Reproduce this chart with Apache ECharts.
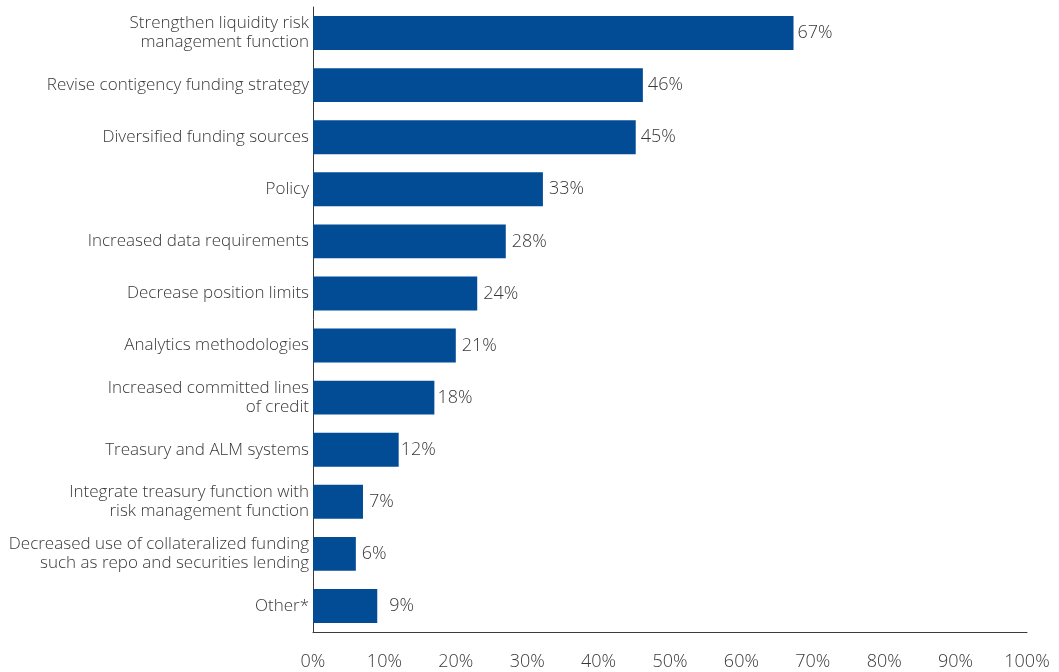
<!DOCTYPE html>
<html>
<head>
<meta charset="utf-8">
<script src="https://cdn.jsdelivr.net/npm/echarts@6/dist/echarts.min.js"></script>
<style>
  html, body { margin: 0; padding: 0; background: #fff; }
  #chart { width: 1059px; height: 672px; }
</style>
</head>
<body>
<div id="chart"></div>
<script>
// categories, top to bottom
var categories = [
    'Strengthen liquidity risk\nmanagement function',
    'Revise contigency funding strategy',
    'Diversified funding sources',
    'Policy',
    'Increased data requirements',
    'Decrease position limits',
    'Analytics methodologies',
    'Increased committed lines\nof credit',
    'Treasury and ALM systems',
    'Integrate treasury function with\nrisk management function',
    'Decreased use of collateralized funding\nsuch as repo and securities lending',
    'Other*'
];
// bar lengths as drawn (%)
var barValues = [67.3, 46.2, 45.2, 32.2, 27, 23, 20, 17, 12, 7, 6, 9];
// printed labels
var barLabels = ['67%', '46%', '45%', '33%', '28%', '24%', '21%', '18%', '12%', '7%', '6%', '9%'];
// distance of each label from its bar end
var labelGaps = [4, 5, 5, 6, 6, 6, 6, 3, 2, 6, 6, 12];

var xTicks = [0, 10, 20, 30, 40, 50, 60, 70, 80, 90, 100];

var fontName = '"Open Sans", "Noto Sans", sans-serif';
var textColor = '#383838';

var myChart = echarts.init(document.getElementById('chart'));

var data = barValues.map(function(v, i) {
    return {
        value: v,
        label: { distance: labelGaps[i], formatter: barLabels[i] }
    };
});

var option = {
    animation: false,
    grid: {
        left: 313,
        right: 32,
        top: 7,
        bottom: 40,
        containLabel: false
    },
    xAxis: {
        type: 'value',
        min: xTicks[0],
        max: xTicks[xTicks.length - 1],
        interval: 10,
        axisLine: { show: true, lineStyle: { color: '#3a3a3a', width: 1 } },
        axisTick: { show: false },
        splitLine: { show: false },
        axisLabel: {
            margin: 21,
            color: textColor,
            fontFamily: fontName,
            fontWeight: 300,
            fontSize: 18,
            formatter: '{value}%'
        }
    },
    yAxis: {
        type: 'category',
        inverse: true,
        data: categories,
        axisLine: { show: true, lineStyle: { color: '#3a3a3a', width: 1 } },
        axisTick: { show: false },
        axisLabel: {
            margin: 4,
            color: textColor,
            fontFamily: fontName,
            fontWeight: 300,
            fontSize: 17,
            lineHeight: 19
        }
    },
    series: [
        {
            type: 'bar',
            data: data,
            barWidth: '65%',
            itemStyle: { color: '#024c96' },
            label: {
                show: true,
                position: 'right',
                color: textColor,
                fontFamily: fontName,
                fontWeight: 300,
                fontSize: 18
            }
        }
    ]
};

myChart.setOption(option);
</script>
</body>
</html>
